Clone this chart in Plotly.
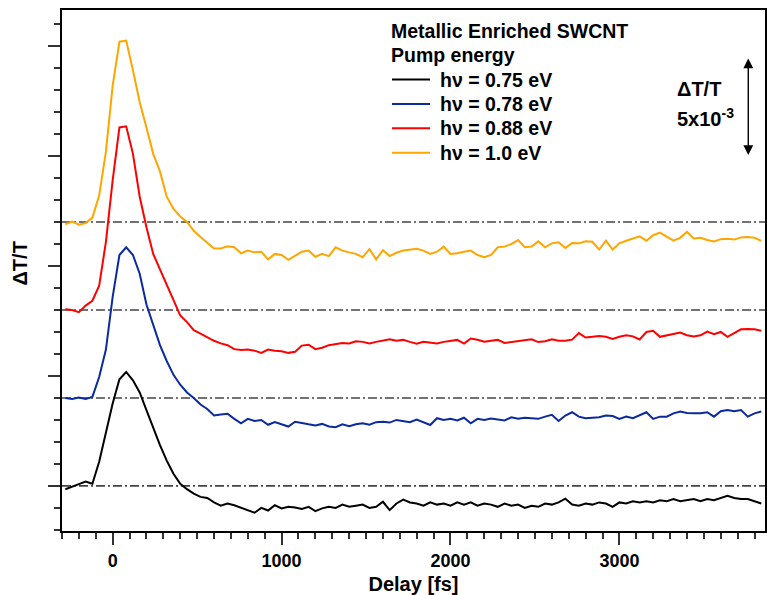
import plotly.graph_objects as go

# ---------------- data (ΔT/T in units of 1e-3, before vertical offset) ----------------
delay_start = -280   # fs
delay_step = 40      # fs

black = [
    -0.15, -0.02, 0.08, 0.2, 0.1, 1.1, 2.4, 3.75, 4.85, 5.18,
    4.8, 4.25, 3.45, 2.65, 1.85, 1.15, 0.55, 0.1, -0.15, -0.35,
    -0.5, -0.55, -0.75, -0.9, -0.8, -0.88, -1.0, -1.1, -1.22, -1.0,
    -1.12, -0.88, -1.02, -0.95, -0.98, -1.05, -0.95, -1.15, -1.02, -0.95,
    -1.0, -0.85, -0.95, -0.9, -0.85, -1.0, -0.95, -0.72, -1.1, -0.8,
    -0.62, -0.75, -0.8, -0.9, -0.75, -0.85, -0.8, -0.9, -0.75, -0.85,
    -0.75, -0.9, -0.8, -0.85, -0.95, -0.8, -0.9, -0.85, -1.0, -0.9,
    -0.95, -0.8, -0.85, -0.75, -0.58, -0.85, -0.9, -0.8, -0.85, -0.75,
    -0.8, -0.95, -0.75, -0.8, -0.7, -0.75, -0.7, -0.75, -0.65, -0.7,
    -0.6, -0.7, -0.65, -0.6, -0.7, -0.6, -0.65, -0.55, -0.45, -0.55,
    -0.6, -0.6, -0.7, -0.8,
]

blue = [
    0.0, -0.05, 0.02, -0.05, 0.05, 0.95, 2.2, 4.6, 6.5, 6.85,
    6.5, 5.65, 4.25, 3.3, 2.4, 1.68, 1.05, 0.6, 0.25, 0.0,
    -0.3, -0.5, -0.8, -0.75, -0.72, -0.95, -1.15, -0.95, -1.05, -1.0,
    -1.22, -1.1, -1.2, -1.3, -1.08, -1.15, -1.2, -1.25, -1.18, -1.3,
    -1.33, -1.2, -1.28, -1.2, -1.15, -1.22, -1.1, -1.08, -1.12, -1.0,
    -1.05, -1.1, -0.98, -1.1, -1.23, -0.92, -1.0, -0.95, -1.02, -0.9,
    -1.15, -0.95, -1.0, -0.93, -0.97, -1.02, -0.88, -0.95, -0.9, -0.92,
    -0.95, -0.85, -0.77, -1.05, -0.8, -0.65, -0.85, -0.92, -0.9, -0.88,
    -0.8, -0.82, -0.95, -0.85, -0.92, -0.8, -0.65, -0.95, -0.85, -0.85,
    -0.7, -0.62, -0.68, -0.7, -0.7, -0.65, -0.85, -0.6, -0.55, -0.6,
    -0.55, -0.85, -0.7, -0.62,
]

red = [
    0.03, 0.0, -0.1, 0.2, 0.42, 1.1, 3.1, 5.9, 8.3, 8.35,
    7.1, 5.15, 3.76, 2.55, 1.85, 1.15, 0.5, -0.25, -0.55, -0.92,
    -1.08, -1.25, -1.4, -1.52, -1.6, -1.78, -1.82, -1.8, -1.85, -1.95,
    -1.8, -1.85, -1.88, -1.95, -1.9, -1.62, -1.58, -1.78, -1.72, -1.6,
    -1.55, -1.5, -1.52, -1.42, -1.45, -1.52, -1.45, -1.38, -1.33, -1.4,
    -1.36, -1.45, -1.53, -1.45, -1.5, -1.52, -1.45, -1.4, -1.36, -1.53,
    -1.3, -1.35, -1.44, -1.4, -1.36, -1.5, -1.45, -1.42, -1.38, -1.33,
    -1.46, -1.42, -1.33, -1.4, -1.4, -1.35, -1.05, -1.25, -1.22, -1.18,
    -1.22, -1.32, -1.22, -1.15, -1.2, -1.34, -1.0, -0.95, -1.22, -1.15,
    -1.08, -1.03, -1.15, -1.21, -1.15, -0.98, -1.1, -1.0, -1.22, -1.05,
    -0.88, -0.86, -0.88, -0.94,
]

orange = [
    -0.1, 0.02, -0.12, -0.05, 0.2, 1.2, 3.2, 6.2, 8.2, 8.25,
    6.9, 5.45, 4.3, 3.1, 2.3, 1.15, 0.6, 0.25, 0.0, -0.4,
    -0.68, -0.95, -1.2, -1.2, -1.1, -1.15, -1.42, -1.3, -1.38, -1.35,
    -1.7, -1.45, -1.5, -1.72, -1.55, -1.35, -1.3, -1.58, -1.45, -1.55,
    -1.15, -1.3, -1.38, -1.45, -1.6, -1.23, -1.7, -1.28, -1.55, -1.4,
    -1.3, -1.27, -1.22, -1.3, -1.45, -1.35, -1.12, -1.45, -1.42, -1.35,
    -1.3, -1.5, -1.6, -1.5, -1.15, -1.12, -1.0, -0.82, -1.15, -1.12,
    -0.88, -1.15, -0.97, -0.92, -1.18, -0.95, -0.97, -0.88, -0.9, -1.25,
    -0.85, -1.25, -0.97, -0.85, -0.74, -0.65, -0.85, -0.6, -0.48, -0.68,
    -0.85, -0.72, -0.45, -0.75, -0.72, -0.82, -0.88, -0.78, -0.76, -0.8,
    -0.7, -0.68, -0.72, -0.86,
]

series_names = ["hν = 0.75 eV", "hν = 0.78 eV", "hν = 0.88 eV", "hν = 1.0 eV"]
series_values = [black, blue, red, orange]
series_offsets = [0, 4, 8, 12]
series_colors = ["#000000", "#0a2a9e", "#ff0000", "#ffa500"]

legend_title_lines = ["Metallic Enriched SWCNT", "Pump energy"]
scale_label = "ΔT/T"
scale_value = "5x10<sup>-3</sup>"
y_title = "ΔT/T"
x_title = "Delay [fs]"
x_tick_values = [0, 1000, 2000, 3000]

# ---------------- layout geometry ----------------
W, H = 767, 595
ML, MR, MT, MB = 62, 2, 10, 64
PW, PH = W - ML - MR, H - MT - MB


def px_x(px):
    return (px - ML) / PW


def px_y(py):
    return (H - MB - py) / PH


FONT = "Liberation Sans, Arial, sans-serif"

fig = go.Figure()

for name, vals, off, col in zip(series_names, series_values, series_offsets, series_colors):
    delays = [delay_start + delay_step * i for i in range(len(vals))]
    fig.add_trace(go.Scatter(
        x=delays, y=[v + off for v in vals], mode="lines", name=name,
        line=dict(color=col, width=2), showlegend=False,
    ))

shapes = []
for off in series_offsets:
    shapes.append(dict(type="line", xref="paper", x0=0, x1=1, yref="y", y0=off, y1=off,
                       line=dict(color="#444444", width=1.6, dash="9px,3px,2px,3px"), layer="below"))

annotations = []
# legend block
title_y = [31, 55]
for txt, yy in zip(legend_title_lines, title_y):
    annotations.append(dict(text=txt, xref="paper", yref="paper", x=px_x(389), y=px_y(yy),
                            xanchor="left", yanchor="middle", showarrow=False,
                            font=dict(family=FONT, size=19.5, color="black", weight="bold")))
item_y0, item_dy = 79.5, 24.4
for i, (name, col) in enumerate(zip(series_names, series_colors)):
    yy = item_y0 + i * item_dy
    shapes.append(dict(type="line", xref="paper", yref="paper", x0=px_x(392), x1=px_x(430),
                       y0=px_y(yy), y1=px_y(yy), line=dict(color=col, width=2)))
    annotations.append(dict(text=name, xref="paper", yref="paper", x=px_x(438), y=px_y(yy),
                            xanchor="left", yanchor="middle", showarrow=False,
                            font=dict(family=FONT, size=19.5, color="black", weight="bold")))

# scale bar
annotations.append(dict(text="", x=3763, y=15.05, ax=3763, ay=19.5, xref="x", yref="y",
                        axref="x", ayref="y", showarrow=True, arrowside="end+start",
                        arrowhead=2, startarrowhead=2, arrowsize=1.4, startarrowsize=1.4,
                        arrowwidth=1.4, arrowcolor="black"))
annotations.append(dict(text=scale_label, xref="paper", yref="paper", x=px_x(675), y=px_y(89),
                        xanchor="left", yanchor="middle", showarrow=False,
                        font=dict(family=FONT, size=20, color="black", weight="bold")))
annotations.append(dict(text=scale_value, xref="paper", yref="paper", x=px_x(675), y=px_y(118),
                        xanchor="left", yanchor="middle", showarrow=False,
                        font=dict(family=FONT, size=20, color="black", weight="bold")))
# y-axis title
annotations.append(dict(text=y_title, xref="paper", yref="paper", x=px_x(19.5), y=px_y(264),
                        xanchor="center", yanchor="middle", textangle=-90, showarrow=False,
                        font=dict(family=FONT, size=20, color="black", weight="bold")))

fig.update_layout(
    width=W, height=H,
    margin=dict(l=ML, r=MR, t=MT, b=MB, autoexpand=False),
    paper_bgcolor="white", plot_bgcolor="white",
    font=dict(family=FONT, color="black"),
    shapes=shapes, annotations=annotations,
    xaxis=dict(
        range=[-300, 3862], showgrid=False, zeroline=False,
        showline=True, linecolor="black", linewidth=2, mirror=True,
        ticks="outside", ticklen=12, tickwidth=2, tickcolor="#333333",
        tickmode="array", tickvals=x_tick_values,
        tickfont=dict(family=FONT, size=18, color="black", weight="bold"),
        minor=dict(dtick=100, tick0=0, ticks="outside", ticklen=6, tickwidth=2,
                   tickcolor="#333333", showgrid=False),
        title=dict(text=x_title, standoff=7,
                   font=dict(family=FONT, size=20, color="black", weight="bold")),
    ),
    yaxis=dict(
        range=[-2.05, 21.64], showgrid=False, zeroline=False,
        showline=True, linecolor="black", linewidth=2, mirror=True,
        ticks="outside", ticklen=12, tickwidth=2, tickcolor="#333333",
        dtick=5, tick0=0, showticklabels=False,
        minor=dict(dtick=1, tick0=0, ticks="outside", ticklen=6, tickwidth=2,
                   tickcolor="#333333", showgrid=False),
    ),
)

fig.write_html("out.html")
